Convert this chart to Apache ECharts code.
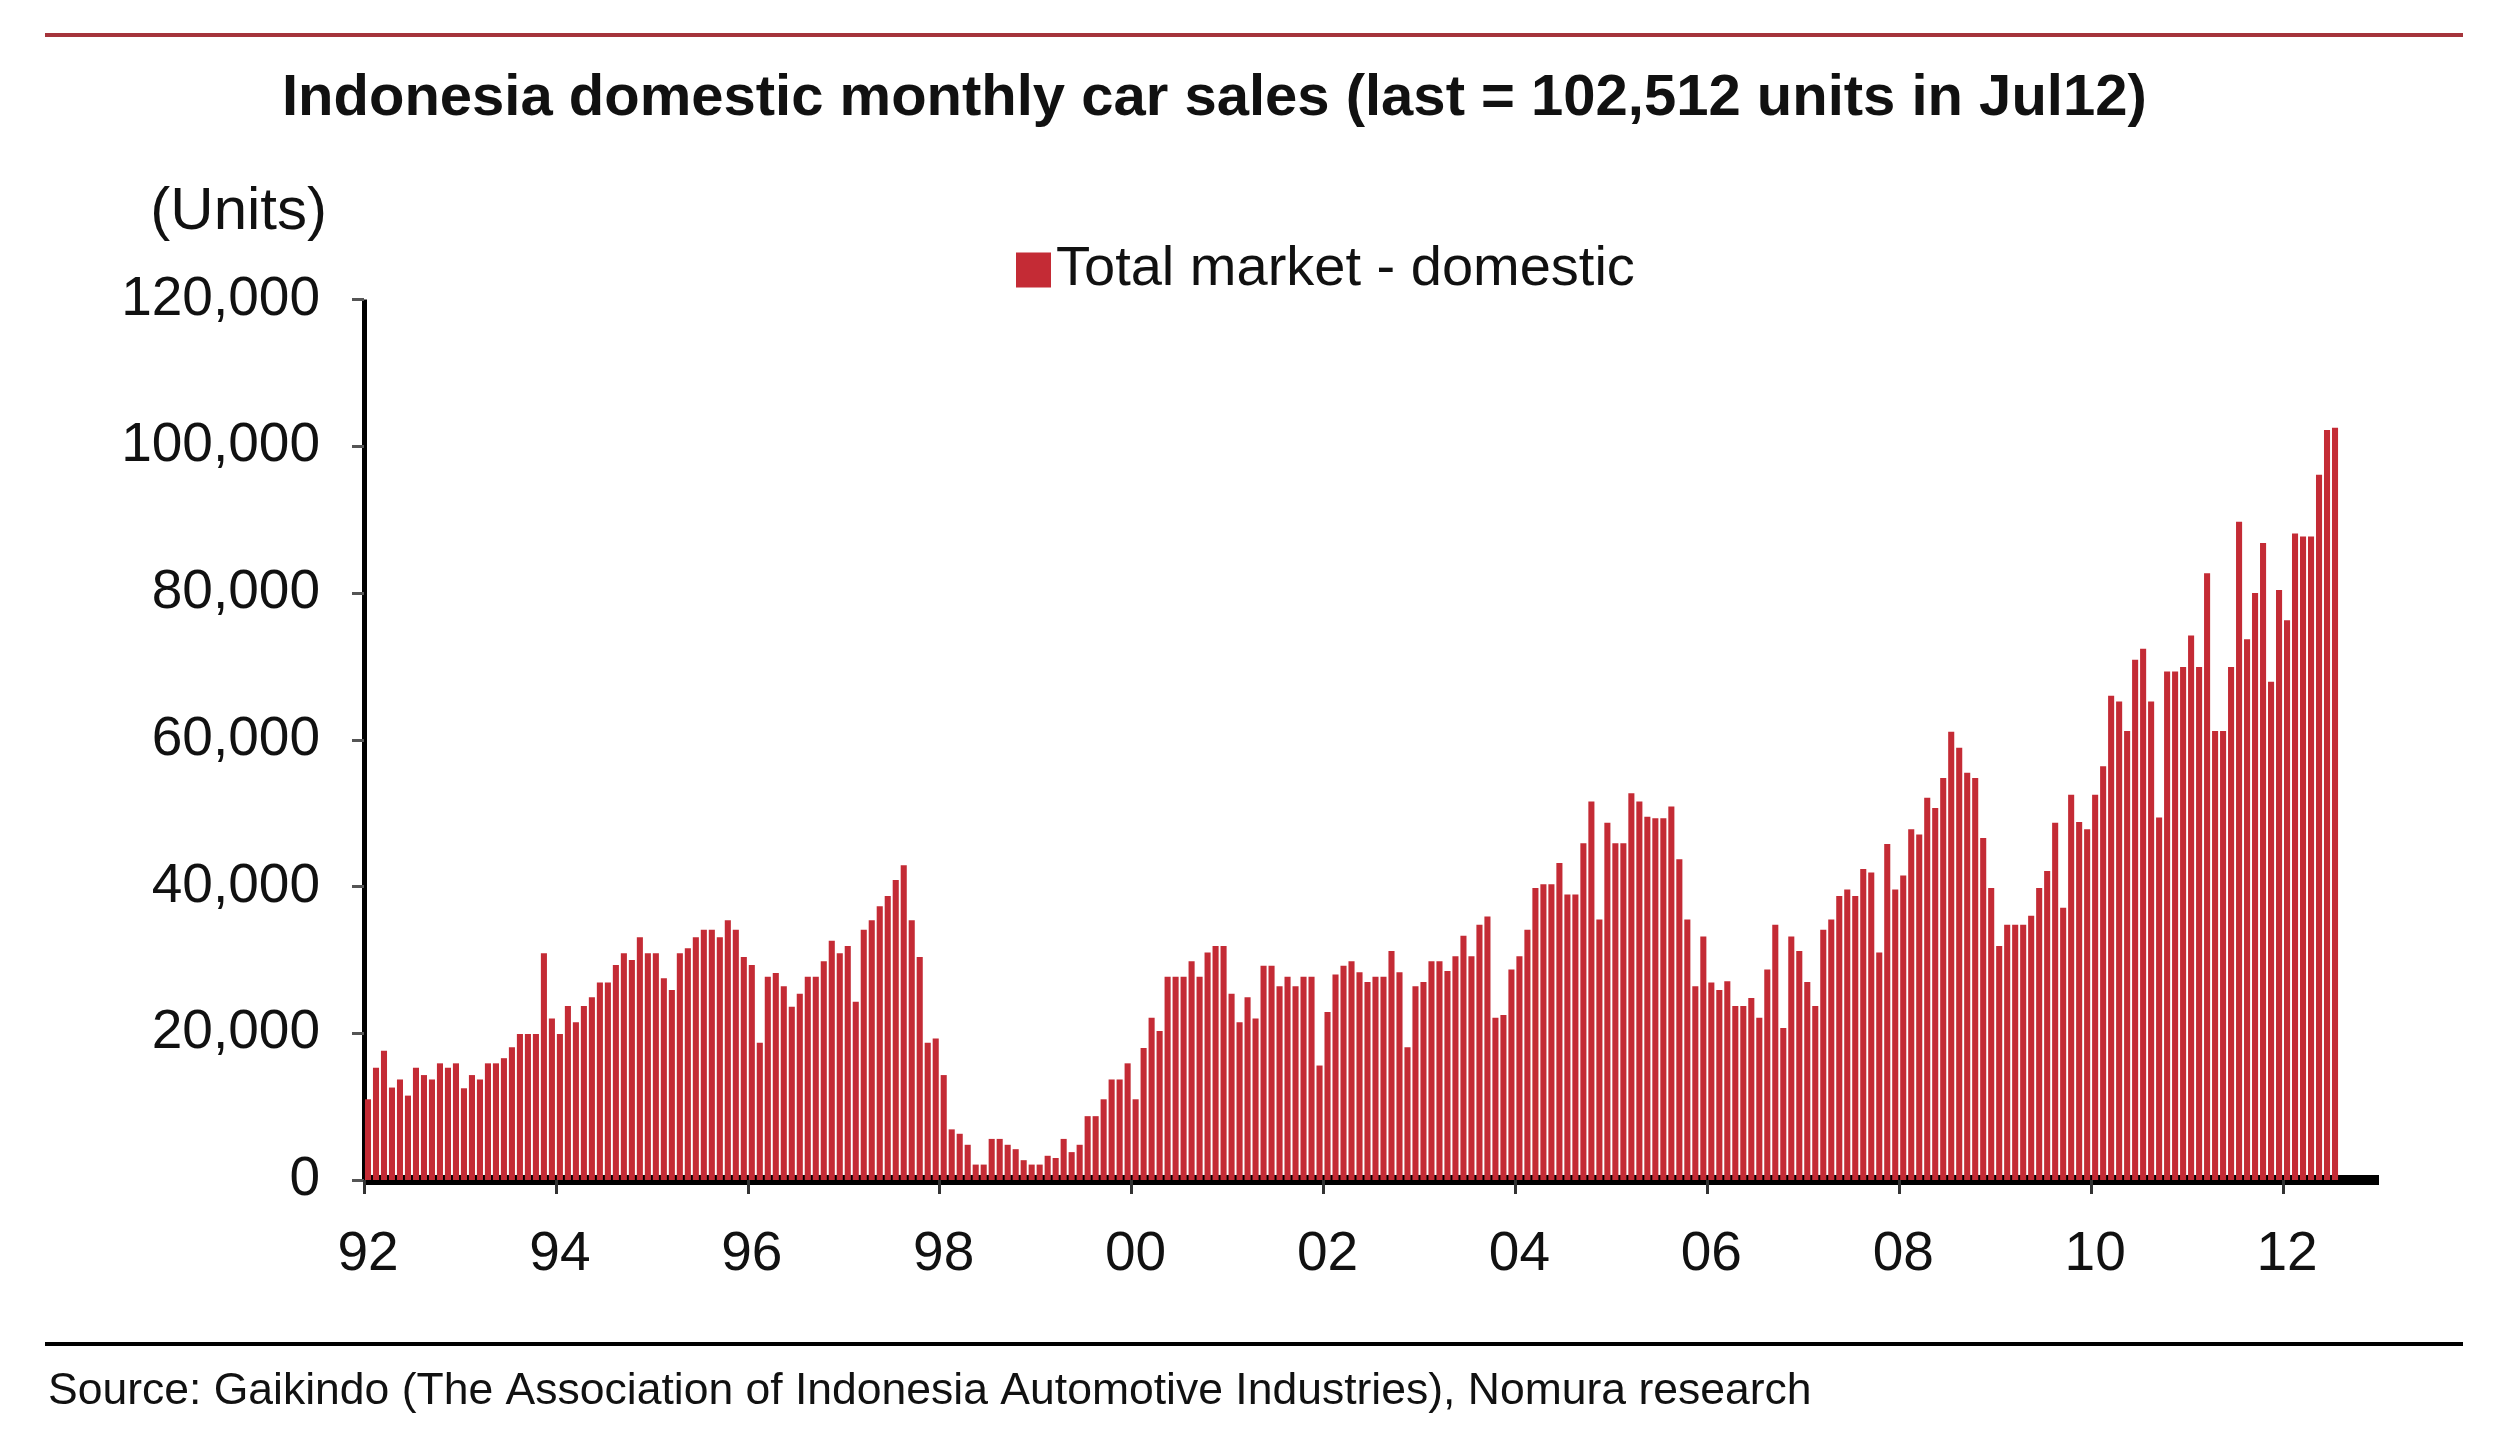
<!DOCTYPE html>
<html>
<head>
<meta charset="utf-8">
<script src="https://cdn.jsdelivr.net/npm/echarts@6/dist/echarts.min.js"></script>
<style>
html,body{margin:0;padding:0;background:#ffffff;}
#chart{width:2500px;height:1436px;}
</style>
</head>
<body>
<div id="chart"></div>
<script>
// Monthly domestic car sales (units)
const sales1992 = [11000, 15300, 17600, 12600, 13700, 11500, 15300, 14300, 13700, 15900, 15300, 15900];
const sales1993 = [12500, 14300, 13700, 15900, 15900, 16600, 18100, 19900, 19900, 19900, 30900, 22000];
const sales1994 = [19900, 23700, 21500, 23700, 24900, 26900, 26900, 29300, 30900, 30000, 33100, 30900];
const sales1995 = [30900, 27500, 25900, 30900, 31600, 33100, 34100, 34100, 33100, 35400, 34100, 30400];
const sales1996 = [29300, 18700, 27700, 28200, 26400, 23600, 25400, 27700, 27700, 29800, 32600, 30900];
const sales1997 = [31900, 24300, 34100, 35400, 37300, 38700, 40900, 42900, 35400, 30400, 18700, 19300];
const sales1998 = [14300, 6900, 6300, 4800, 2100, 2100, 5600, 5600, 4800, 4200, 2700, 2100];
const sales1999 = [2100, 3300, 3000, 5600, 3800, 4800, 8700, 8700, 11000, 13700, 13700, 15900];
const sales2000 = [11000, 18000, 22100, 20300, 27700, 27700, 27700, 29800, 27700, 31000, 31900, 31900];
const sales2001 = [25400, 21500, 24900, 22000, 29200, 29200, 26400, 27700, 26400, 27700, 27700, 15600];
const sales2002 = [22900, 28000, 29200, 29800, 28300, 27000, 27700, 27700, 31200, 28300, 18100, 26400];
const sales2003 = [27000, 29800, 29800, 28500, 30500, 33300, 30500, 34800, 35900, 22100, 22500, 28700];
const sales2004 = [30500, 34100, 39800, 40300, 40300, 43200, 38900, 38900, 45900, 51600, 35500, 48700];
const sales2005 = [45900, 45900, 52700, 51600, 49500, 49300, 49300, 50900, 43700, 35500, 26400, 33200];
const sales2006 = [26900, 25900, 27100, 23700, 23700, 24800, 22100, 28700, 34800, 20700, 33200, 31200];
const sales2007 = [27000, 23700, 34100, 35500, 38700, 39600, 38700, 42400, 41900, 31000, 45800, 39600];
const sales2008 = [41500, 47800, 47100, 52100, 50700, 54800, 61100, 58900, 55500, 54800, 46600, 39800];
const sales2009 = [31900, 34800, 34800, 34800, 36000, 39800, 42100, 48700, 37100, 52500, 48800, 47800];
const sales2010 = [52500, 56400, 66000, 65200, 61200, 70900, 72400, 65200, 49400, 69300, 69300, 69900];
const sales2011 = [74200, 69900, 82700, 61200, 61200, 69900, 89700, 73700, 80000, 86800, 67900, 80400];
const sales2012 = [76300, 88100, 87700, 87700, 96100, 102200, 102512];

// Axis tick labels
const yearLabels = ['92', '94', '96', '98', '00', '02', '04', '06', '08', '10', '12'];
const monthNames = ['Jan','Feb','Mar','Apr','May','Jun','Jul','Aug','Sep','Oct','Nov','Dec'];
const firstYear = 1992;
const lastYear = 2012;

const titleText = 'Indonesia domestic monthly car sales (last = 102,512 units in Jul12)';
const seriesName = 'Total market - domestic';
const unitsLabel = '(Units)';
const sourceText = 'Source: Gaikindo (The Association of Indonesia Automotive Industries), Nomura research';

// Build categories (one per month, Jan92 .. Dec12)
const categories = [];
for (let y = firstYear; y <= lastYear; y++) {
  for (let m = 0; m < 12; m++) categories.push(monthNames[m] + String(y).slice(2));
}
const sales = [].concat(sales1992, sales1993, sales1994, sales1995, sales1996, sales1997,
  sales1998, sales1999, sales2000, sales2001, sales2002, sales2003, sales2004, sales2005,
  sales2006, sales2007, sales2008, sales2009, sales2010, sales2011, sales2012);

const monthsPerLabel = 24;
const tickMonths = yearLabels.map((_, i) => i * monthsPerLabel);

const FONT = "'Liberation Sans', Arial, Helvetica, sans-serif";
const chart = echarts.init(document.getElementById('chart'), null, {renderer: 'canvas'});

chart.setOption({
  animation: false,
  backgroundColor: '#ffffff',
  textStyle: {fontFamily: FONT},
  title: [
    {
      text: titleText,
      left: 282, top: 70,
      padding: 0,
      textStyle: {fontFamily: FONT, fontSize: 58, fontWeight: 'bold', color: '#111111'}
    },
    {
      text: sourceText,
      left: 48, top: 1369,
      padding: 0,
      textStyle: {fontFamily: FONT, fontSize: 44.5, fontWeight: 'normal', color: '#111111'}
    }
  ],
  legend: {
    data: [seriesName],
    left: 1016, top: 242,
    padding: 0,
    icon: 'rect',
    itemWidth: 35, itemHeight: 35,
    textStyle: {fontFamily: FONT, fontSize: 56, color: '#111111'}
  },
  graphic: [
    {type: 'line', shape: {x1: 45, y1: 35, x2: 2463, y2: 35}, style: {stroke: '#A5343B', lineWidth: 4}},
    {type: 'line', shape: {x1: 45, y1: 1344, x2: 2463, y2: 1344}, style: {stroke: '#000000', lineWidth: 4}}
  ],
  grid: {left: 364, top: 299.5, right: 121, bottom: 256, containLabel: false},
  xAxis: [
    {
      type: 'category',
      data: categories,
      boundaryGap: true,
      axisLine: {show: true, lineStyle: {color: '#000000', width: 10, cap: 'butt'}},
      axisTick: {show: false},
      axisLabel: {
        show: true,
        interval: (idx) => idx % monthsPerLabel === 0,
        formatter: (val, idx) => yearLabels[Math.round(idx / monthsPerLabel)],
        fontFamily: FONT, fontSize: 55, color: '#111111', margin: 47
      },
      splitLine: {show: false}
    },
    {
      type: 'value',
      position: 'bottom',
      min: 0, max: categories.length, interval: monthsPerLabel,
      axisLine: {show: false},
      axisLabel: {show: false},
      splitLine: {show: false},
      axisTick: {show: true, inside: false, length: 14, customValues: tickMonths,
        lineStyle: {color: '#333333', width: 3}}
    }
  ],
  yAxis: {
    type: 'value',
    min: 0, max: 120000, interval: 20000,
    name: unitsLabel,
    nameLocation: 'end',
    nameGap: 87,
    nameTextStyle: {fontFamily: FONT, fontSize: 60, color: '#111111', align: 'right', verticalAlign: 'middle', padding: [0, 37, 0, 0]},
    axisLine: {show: true, lineStyle: {color: '#000000', width: 5, cap: 'butt'}},
    axisTick: {show: true, inside: false, length: 12, lineStyle: {color: '#555555', width: 3}},
    axisLabel: {
      fontFamily: FONT, fontSize: 55, color: '#111111', margin: 44,
      formatter: (v) => v.toLocaleString('en-US')
    },
    splitLine: {show: false}
  },
  series: [{
    name: seriesName,
    type: 'bar',
    xAxisIndex: 0,
    yAxisIndex: 0,
    data: sales,
    barCategoryGap: '24%',
    itemStyle: {color: '#C42B35'}
  }]
});
</script>
</body>
</html>
